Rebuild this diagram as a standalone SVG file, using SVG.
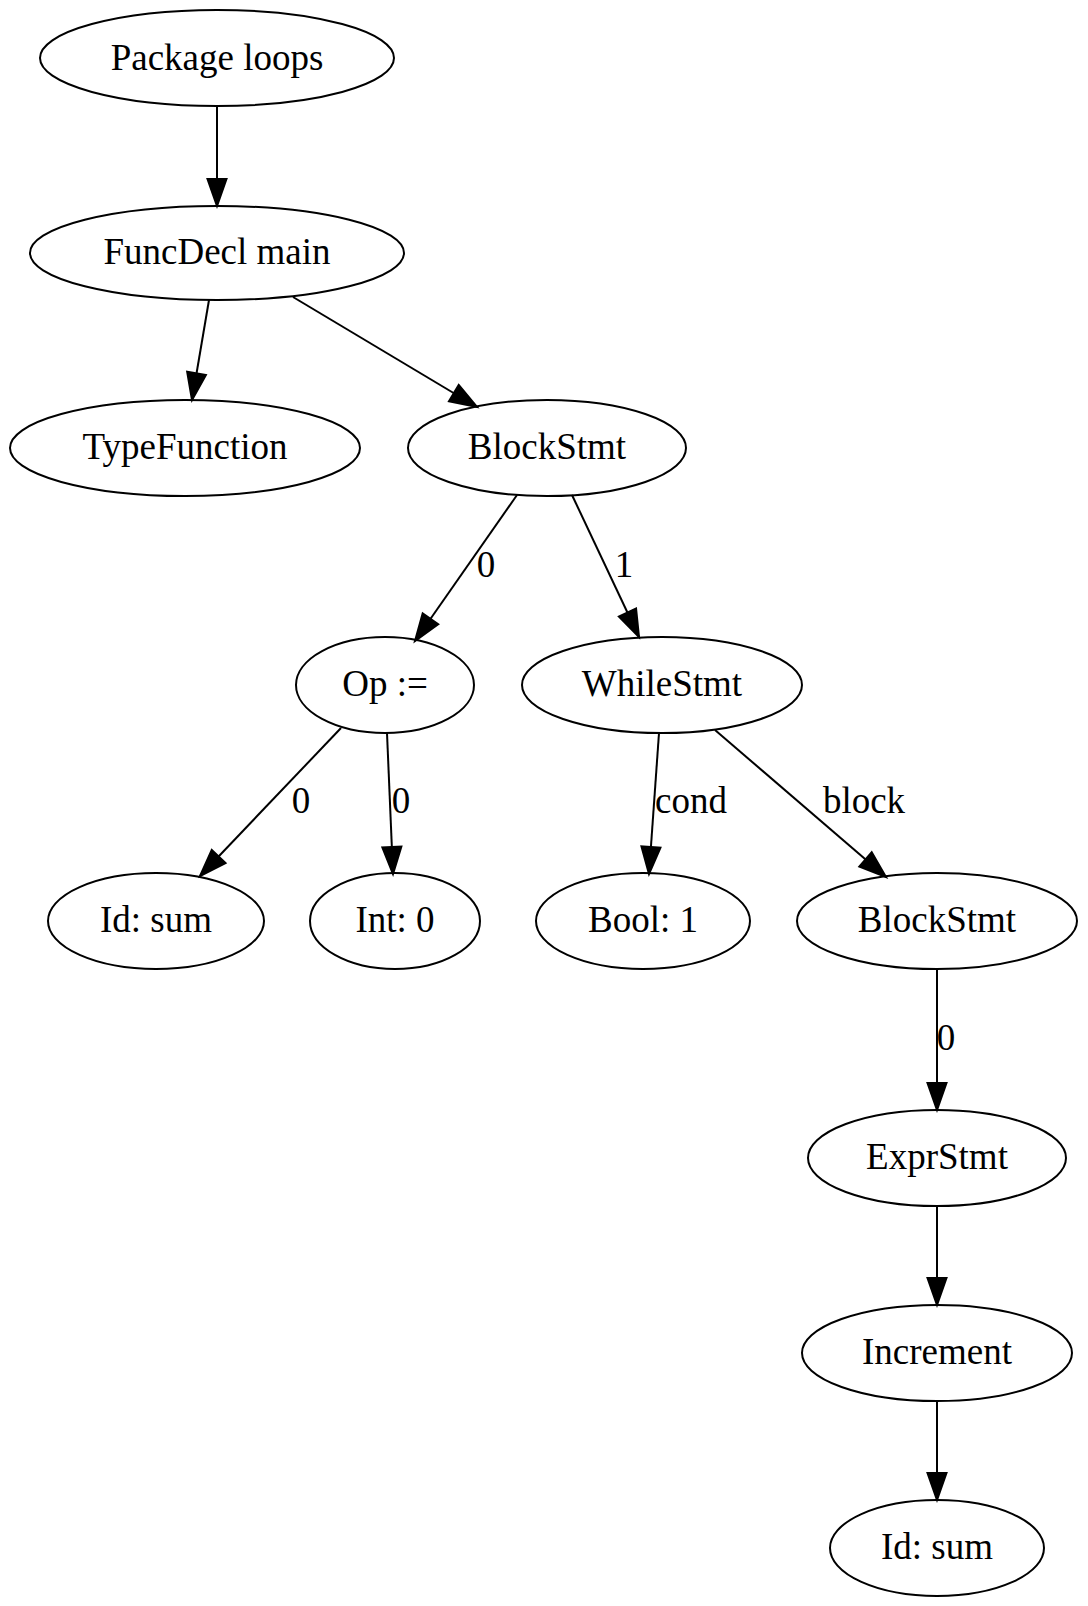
<svg xmlns="http://www.w3.org/2000/svg" width="1088" height="1606" viewBox="0 0 1088 1606">
<defs>
<marker id="arr" markerUnits="userSpaceOnUse" markerWidth="32" markerHeight="24" refX="27" refY="10" orient="auto" viewBox="-2 -2 32 24">
<path d="M0,0.5 L27,10 L0,19.5 Z" fill="#000" stroke="#000" stroke-width="2"/>
</marker>
<style>
.n ellipse{fill:none;stroke:#000;stroke-width:2}
text{font-family:"Liberation Serif","Times New Roman",serif;font-size:37px;fill:#000;text-anchor:middle}
.e line{stroke:#000;stroke-width:2;marker-end:url(#arr)}
</style>
</defs>
<rect width="1088" height="1606" fill="#fff"/>
<g id="edges" class="e">
<line x1="217" y1="106" x2="217" y2="206"/>
<line x1="209" y1="300" x2="192" y2="400"/>
<line x1="293" y1="297" x2="477" y2="407"/>
<line x1="517" y1="495" x2="415" y2="641"/>
<text x="486" y="577">0</text>
<line x1="572" y1="495" x2="639" y2="637"/>
<text x="624" y="577">1</text>
<line x1="341" y1="728" x2="200" y2="876"/>
<text x="301" y="813">0</text>
<line x1="387" y1="733" x2="393" y2="874"/>
<text x="401" y="813">0</text>
<line x1="659" y1="733" x2="649" y2="874"/>
<text x="691" y="813">cond</text>
<line x1="715" y1="730" x2="886" y2="877"/>
<text x="864" y="813">block</text>
<line x1="937" y1="969" x2="937" y2="1110"/>
<text x="946" y="1050">0</text>
<line x1="937" y1="1207" x2="937" y2="1305"/>
<line x1="937" y1="1401" x2="937" y2="1500"/>
</g>
<g id="n_package" class="n"><ellipse cx="217" cy="58" rx="177" ry="48"/><text x="217" y="70">Package loops</text></g>
<g id="n_funcdecl" class="n"><ellipse cx="217" cy="253" rx="187" ry="47"/><text x="217" y="264">FuncDecl main</text></g>
<g id="n_typefunction" class="n"><ellipse cx="185" cy="448" rx="175" ry="48"/><text x="185" y="459">TypeFunction</text></g>
<g id="n_blockstmt1" class="n"><ellipse cx="547" cy="448" rx="139" ry="48"/><text x="547" y="459">BlockStmt</text></g>
<g id="n_op" class="n"><ellipse cx="385" cy="685" rx="89" ry="48"/><text x="385" y="696">Op :=</text></g>
<g id="n_while" class="n"><ellipse cx="662" cy="685" rx="140" ry="48"/><text x="662" y="696">WhileStmt</text></g>
<g id="n_idsum1" class="n"><ellipse cx="156" cy="921" rx="108" ry="48"/><text x="156" y="932">Id: sum</text></g>
<g id="n_int0" class="n"><ellipse cx="395" cy="921" rx="85" ry="48"/><text x="395" y="932">Int: 0</text></g>
<g id="n_bool1" class="n"><ellipse cx="643" cy="921" rx="107" ry="48"/><text x="643" y="932">Bool: 1</text></g>
<g id="n_blockstmt2" class="n"><ellipse cx="937" cy="921" rx="140" ry="48"/><text x="937" y="932">BlockStmt</text></g>
<g id="n_exprstmt" class="n"><ellipse cx="937" cy="1158" rx="129" ry="48"/><text x="937" y="1169">ExprStmt</text></g>
<g id="n_increment" class="n"><ellipse cx="937" cy="1353" rx="135" ry="48"/><text x="937" y="1364">Increment</text></g>
<g id="n_idsum2" class="n"><ellipse cx="937" cy="1548" rx="107" ry="48"/><text x="937" y="1559">Id: sum</text></g>
</svg>
